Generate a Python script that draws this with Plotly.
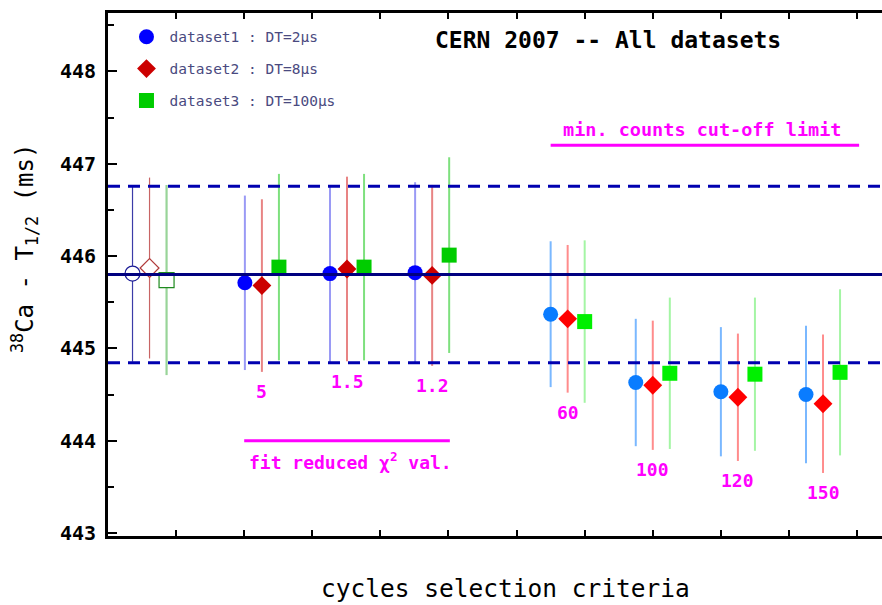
import plotly.graph_objects as go

# Half-life of 38Ca (ms) for each cycle-selection criterion, per dataset
criteria_labels = ["", "5", "1.5", "1.2", "60", "100", "120", "150"]
ds1_val = [445.81, 445.71, 445.81, 445.82, 445.37, 444.63, 444.53, 444.50]
ds1_err = [0.955, 0.945, 0.96, 0.98, 0.79, 0.69, 0.70, 0.745]
ds2_val = [445.87, 445.68, 445.86, 445.79, 445.32, 444.60, 444.47, 444.40]
ds2_err = [0.98, 0.935, 1.00, 0.98, 0.80, 0.70, 0.69, 0.75]
ds3_val = [445.74, 445.88, 445.88, 446.01, 445.29, 444.73, 444.72, 444.74]
ds3_err = [1.03, 1.01, 1.01, 1.06, 0.88, 0.82, 0.83, 0.90]
ref_val = 445.80
ref_err = 0.955
series_names = ["dataset1 : DT=2μs", "dataset2 : DT=8μs", "dataset3 : DT=100μs"]

values = [ds1_val, ds2_val, ds3_val]
errors = [ds1_err, ds2_err, ds3_err]

# placement of each criterion group along the x axis and per-series offset
group_pos = [0.61, 2.26, 3.51, 4.76, 6.75, 8.0, 9.25, 10.5]
offsets = [-0.25, 0.0, 0.25]
style_groups = {"chi2": [1, 2, 3], "counts": [4, 5, 6, 7], "ref": [0]}

symbols = ["circle", "diamond", "square"]
sizes = [15, 14.5, 15]
palette = {
    "ref": dict(fill=["white", "white", "white"],
                edge=["#1c1c96", "#b03a3a", "#1f8a1f"],
                bar=["#3c3ca8", "#c86464", "#98d498"],
                bw=[1.2, 1.2, 2.2], lw=1.2),
    "chi2": dict(fill=["#0000ff", "#cc0000", "#00cc00"],
                 edge=["#0000ff", "#cc0000", "#00cc00"],
                 bar=["#9a9af5", "#e88484", "#7ee07e"],
                 bw=[2, 2, 2], lw=0),
    "counts": dict(fill=["#0a7cff", "#ff0000", "#00f000"],
                   edge=["#0a7cff", "#ff0000", "#00f000"],
                   bar=["#7ab8ff", "#ff8c8c", "#a4f5a4"],
                   bw=[2, 2, 2], lw=0),
}

MONO = "DejaVu Sans Mono, Liberation Mono, monospace"
MAGENTA = "#ff00ff"

fig = go.Figure()
for key, idx in style_groups.items():
    p = palette[key]
    for s in range(3):
        fig.add_trace(go.Scatter(
            x=[group_pos[i] + offsets[s] for i in idx],
            y=[values[s][i] for i in idx],
            error_y=dict(type="data", array=[errors[s][i] for i in idx],
                         width=0, thickness=p["bw"][s], color=p["bar"][s]),
            mode="markers",
            marker=dict(symbol=symbols[s], size=sizes[s], color=p["fill"][s],
                        line=dict(color=p["edge"][s], width=p["lw"])),
            name=series_names[s],
            legendgroup=f"g{s}",
            showlegend=(key == "chi2"),
            hoverinfo="x+y",
        ))

# weighted reference value and its uncertainty band
fig.add_hline(y=ref_val, line=dict(color="#000080", width=3), layer="above")
for sign in (1, -1):
    fig.add_hline(y=ref_val + sign * ref_err,
                  line=dict(color="#0000b0", width=3, dash="12px,8px"), layer="above")

# group brackets
fig.add_shape(type="line", x0=2.0, x1=5.02, y0=444.0, y1=444.0,
              line=dict(color=MAGENTA, width=3))
fig.add_shape(type="line", x0=6.5, x1=11.03, y0=447.2, y1=447.2,
              line=dict(color=MAGENTA, width=3))

annotations = [
    dict(x=7.34, y=448.34, text="<b>CERN 2007 -- All datasets</b>",
         font=dict(family=MONO, size=23, color="black")),
    dict(x=8.72, y=447.37, text="<b>min. counts cut-off limit</b>",
         font=dict(family=MONO, size=18.5, color=MAGENTA)),
    dict(x=3.56, y=443.78, text="<b>fit reduced χ<sup>2</sup> val.</b>",
         font=dict(family=MONO, size=18, color=MAGENTA)),
]
for i in range(1, len(criteria_labels)):
    annotations.append(dict(
        x=group_pos[i], y=ds2_val[i] - ds2_err[i], yshift=-20,
        text=f"<b>{criteria_labels[i]}</b>",
        font=dict(family=MONO, size=18, color=MAGENTA)))
for a in annotations:
    a.update(xref="x", yref="y", showarrow=False, xanchor="center", yanchor="middle")

# axis titles
annotations += [
    dict(xref="paper", yref="paper", x=0.514, y=-0.1, showarrow=False,
         xanchor="center", yanchor="middle", text="cycles selection criteria",
         font=dict(family=MONO, size=24.5, color="black")),
    dict(xref="paper", yref="paper", x=-0.107, y=0.549, showarrow=False,
         xanchor="center", yanchor="middle", textangle=-90,
         text="<sup>38</sup>Ca - T<sub>1/2</sub> (ms)",
         font=dict(family=MONO, size=24, color="black")),
]

fig.update_layout(
    width=882, height=605,
    margin=dict(l=108, r=0, t=13, b=69),
    plot_bgcolor="white", paper_bgcolor="white",
    annotations=annotations,
    showlegend=True,
    legend=dict(x=0.02, y=0.985, xanchor="left", yanchor="top",
                bgcolor="rgba(0,0,0,0)", traceorder="grouped", tracegroupgap=10,
                font=dict(family=MONO, size=14.5, color="#4a4a80"),
                itemsizing="trace", itemwidth=36),
)
fig.update_xaxes(
    range=[0, 11.366], showline=True, linewidth=3, linecolor="black",
    mirror="ticks", ticks="inside", ticklen=6, tickwidth=2, tickcolor="black",
    tick0=0, dtick=1, showticklabels=False, showgrid=False, zeroline=False,
)
fig.update_yaxes(
    range=[442.967, 448.633], showline=True, linewidth=3, linecolor="black",
    ticks="inside", ticklen=9, tickwidth=2, tickcolor="black",
    tick0=443, dtick=1, showgrid=False, zeroline=False,
    minor=dict(ticks="inside", ticklen=6, tickwidth=2, tickcolor="black", dtick=0.5),
    tickfont=dict(family=MONO, size=20, color="black", weight="bold"),
    ticklabelstandoff=5,
)

fig.write_html("out.html")
